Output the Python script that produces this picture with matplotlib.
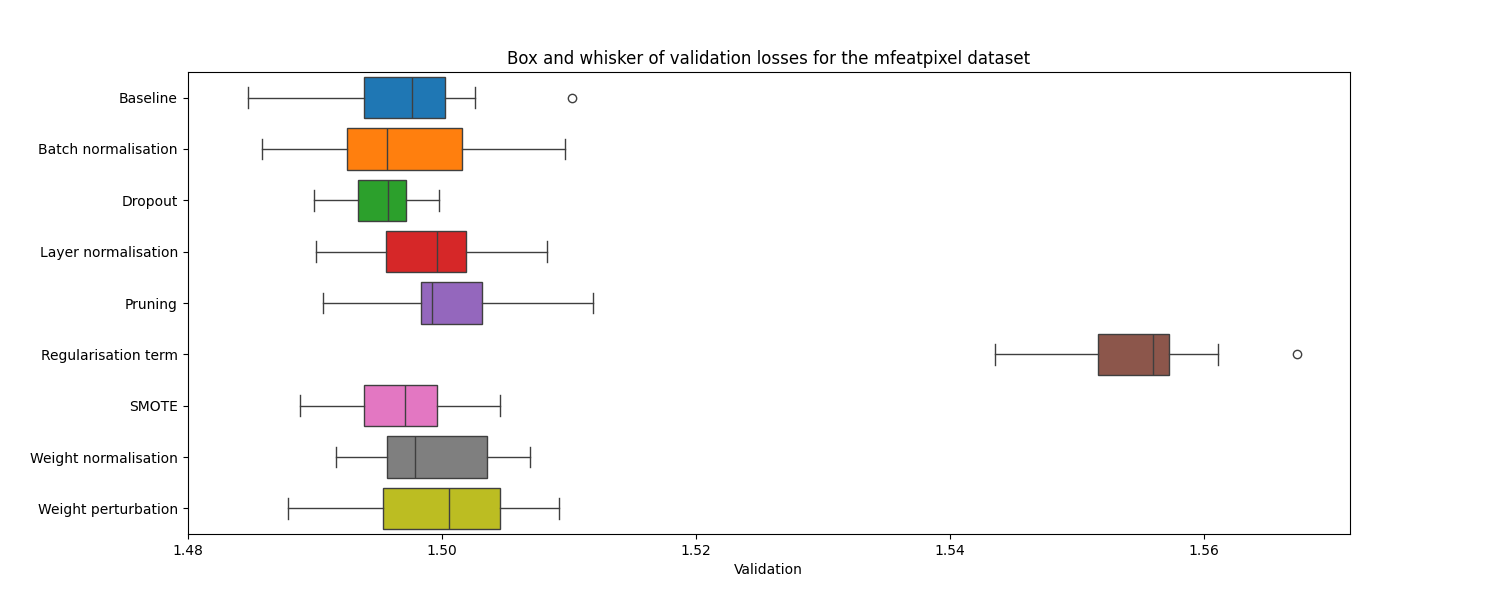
import matplotlib
matplotlib.use("Agg")
from matplotlib import pyplot as plt

# Box statistics
labels = ["Baseline", "Batch normalisation", "Dropout", "Layer normalisation", "Pruning",
          "Regularisation term", "SMOTE", "Weight normalisation", "Weight perturbation"]
whislo = [1.48477, 1.48586, 1.48992, 1.49008, 1.49063, 1.54352, 1.48883, 1.49172, 1.48789]
q1 = [1.49391, 1.49258, 1.49344, 1.49563, 1.49836, 1.55164, 1.49391, 1.49570, 1.49539]
med = [1.49766, 1.49570, 1.49578, 1.49961, 1.49922, 1.55594, 1.49711, 1.49789, 1.50055]
q3 = [1.50023, 1.50164, 1.49719, 1.50195, 1.50320, 1.55727, 1.49961, 1.50359, 1.50461]
whishi = [1.50266, 1.50969, 1.49977, 1.50828, 1.51188, 1.56109, 1.50461, 1.50695, 1.50922]
fliers = [[1.51023], [], [], [], [], [1.56734], [], [], []]

colors = ["#1f77b4", "#ff7f0e", "#2ca02c", "#d62728", "#9467bd",
          "#8c564b", "#e377c2", "#7f7f7f", "#bcbd22"]
line_col = "#3f3f3f"

stats = []
for i in range(len(labels)):
    stats.append(dict(label=labels[i], whislo=whislo[i], q1=q1[i], med=med[i],
                      q3=q3[i], whishi=whishi[i], fliers=fliers[i]))

fig = plt.figure(figsize=(15, 6), dpi=100)
ax = fig.add_axes([0.125, 0.11, 0.775, 0.77])
pos = list(range(len(labels)))
bp = ax.bxp(stats, positions=pos, vert=False, widths=0.8, patch_artist=True,
            boxprops=dict(edgecolor=line_col, linewidth=1),
            medianprops=dict(color=line_col, linewidth=1),
            whiskerprops=dict(color=line_col, linewidth=1),
            capprops=dict(color=line_col, linewidth=1),
            flierprops=dict(marker="o", markerfacecolor="none",
                            markeredgecolor=line_col, markersize=6),
            capwidths=0.4)
for patch, c in zip(bp["boxes"], colors):
    patch.set_facecolor(c)

ax.set_ylim(len(labels) - 0.5, -0.5)
ax.set_yticks(pos)
ax.set_yticklabels(labels)
ax.set_xlim(1.4807, 1.57148)
ax.set_xticks([1.48, 1.50, 1.52, 1.54, 1.56])
ax.set_xticklabels(["1.48", "1.50", "1.52", "1.54", "1.56"])
ax.set_xlabel("Validation")
ax.set_title("Box and whisker of validation losses for the mfeatpixel dataset")
plt.savefig("out.png")
